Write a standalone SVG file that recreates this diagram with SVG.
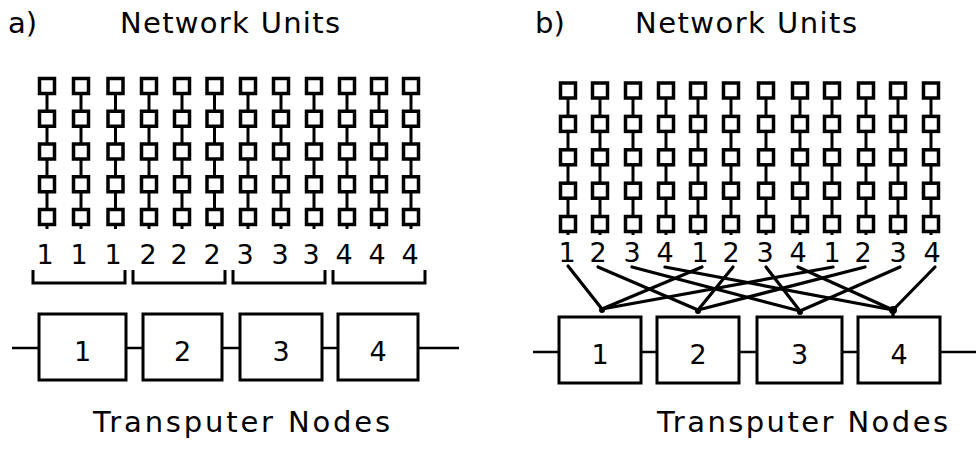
<svg xmlns="http://www.w3.org/2000/svg" xmlns:xlink="http://www.w3.org/1999/xlink" width="976" height="449" viewBox="0 0 976 449">
<style>
text{font-family:"DejaVu Sans","Liberation Sans",sans-serif;fill:#000}
.title{font-size:29px}
.lbl{font-size:27px;text-anchor:middle}
.unit{fill:#fff;stroke:#000;stroke-width:3.5}
.link{stroke:#000;stroke-width:3;fill:none}
.box{fill:#fff;stroke:#000;stroke-width:3}
.wire{stroke:#000;stroke-width:2.5;fill:none}
.brk{stroke:#000;stroke-width:3;fill:none}
.cross{stroke:#000;stroke-width:3.2;fill:none;stroke-linecap:round}
</style>
<defs>
<g id="chainL">
<line class="link" x1="0" y1="0" x2="0" y2="143"/>
<rect class="unit" x="-7.5" y="-7.5" width="15" height="15"/>
<rect class="unit" x="-7.5" y="25.25" width="15" height="15"/>
<rect class="unit" x="-7.5" y="58" width="15" height="15"/>
<rect class="unit" x="-7.5" y="90.75" width="15" height="15"/>
<rect class="unit" x="-7.5" y="123.5" width="15" height="15"/>
</g>
<g id="chainR">
<line class="link" x1="0" y1="0" x2="0" y2="144.5"/>
<rect class="unit" x="-7.5" y="-7.5" width="15" height="15"/>
<rect class="unit" x="-7.5" y="25.9" width="15" height="15"/>
<rect class="unit" x="-7.5" y="59.3" width="15" height="15"/>
<rect class="unit" x="-7.5" y="92.7" width="15" height="15"/>
<rect class="unit" x="-7.5" y="126" width="15" height="15"/>
</g>
</defs>
<rect width="976" height="449" fill="#fff"/>

<!-- Titles -->
<text class="title" x="8" y="33">a)</text>
<text class="title" x="120" y="33" textLength="220" lengthAdjust="spacing">Network Units</text>
<text class="title" x="535" y="33">b)</text>
<text class="title" x="635" y="33" textLength="222" lengthAdjust="spacing">Network Units</text>
<text class="title" x="93" y="432" textLength="297" lengthAdjust="spacing">Transputer Nodes</text>
<text class="title" x="657" y="432" textLength="291" lengthAdjust="spacing">Transputer Nodes</text>

<!-- Panel a: network unit columns -->
<g id="a-units">
<g id="a-col1"><use xlink:href="#chainL" x="47" y="86"/><text class="lbl" x="45" y="264">1</text></g>
<g id="a-col2"><use xlink:href="#chainL" x="81" y="86"/><text class="lbl" x="79" y="264">1</text></g>
<g id="a-col3"><use xlink:href="#chainL" x="115.5" y="86"/><text class="lbl" x="113" y="264">1</text></g>
<g id="a-col4"><use xlink:href="#chainL" x="149" y="86"/><text class="lbl" x="148" y="264">2</text></g>
<g id="a-col5"><use xlink:href="#chainL" x="182" y="86"/><text class="lbl" x="179" y="264">2</text></g>
<g id="a-col6"><use xlink:href="#chainL" x="214.5" y="86"/><text class="lbl" x="212" y="264">2</text></g>
<g id="a-col7"><use xlink:href="#chainL" x="248" y="86"/><text class="lbl" x="245" y="264">3</text></g>
<g id="a-col8"><use xlink:href="#chainL" x="281" y="86"/><text class="lbl" x="280" y="264">3</text></g>
<g id="a-col9"><use xlink:href="#chainL" x="314" y="86"/><text class="lbl" x="311" y="264">3</text></g>
<g id="a-col10"><use xlink:href="#chainL" x="347" y="86"/><text class="lbl" x="344" y="264">4</text></g>
<g id="a-col11"><use xlink:href="#chainL" x="379" y="86"/><text class="lbl" x="377" y="264">4</text></g>
<g id="a-col12"><use xlink:href="#chainL" x="411" y="86"/><text class="lbl" x="410" y="264">4</text></g>
</g>

<!-- Panel a: brackets -->
<g id="a-brackets" class="brk">
<path d="M33,270 V283 H125 V270"/>
<path d="M133,270 V283 H225 V270"/>
<path d="M233,270 V283 H325 V270"/>
<path d="M333,270 V283 H425 V270"/>
</g>

<!-- Connectors -->
<g id="connectors">
<g id="a-wires" class="wire">
<line x1="12" y1="348" x2="39" y2="348"/>
<line x1="126" y1="348" x2="143" y2="348"/>
<line x1="222" y1="348" x2="240" y2="348"/>
<line x1="322" y1="348" x2="338" y2="348"/>
<line x1="418" y1="348" x2="459" y2="348"/>
</g>
<g id="b-wires" class="wire">
<line x1="533" y1="352" x2="559" y2="352"/>
<line x1="641" y1="352" x2="657" y2="352"/>
<line x1="739" y1="352" x2="757" y2="352"/>
<line x1="842" y1="352" x2="858" y2="352"/>
<line x1="940" y1="352" x2="976" y2="352"/>
</g>
<g id="b-cross" class="cross">
<line x1="568" y1="266" x2="602" y2="309"/>
<line x1="598" y1="267" x2="698" y2="310"/>
<line x1="632" y1="267" x2="800" y2="311"/>
<line x1="665" y1="267" x2="893" y2="310"/>
<line x1="702" y1="267" x2="602" y2="309"/>
<line x1="733" y1="267" x2="698" y2="310"/>
<line x1="766" y1="267" x2="800" y2="311"/>
<line x1="798" y1="267" x2="893" y2="310"/>
<line x1="833" y1="267" x2="602" y2="309"/>
<line x1="865" y1="267" x2="698" y2="310"/>
<line x1="900" y1="267" x2="800" y2="311"/>
<line x1="935" y1="267" x2="893" y2="310"/>
<line x1="893" y1="310" x2="893" y2="317"/>
</g>
<g id="b-dots">
<circle cx="602" cy="310" r="3"/>
<circle cx="698" cy="311" r="3"/>
<circle cx="800" cy="312" r="3"/>
<circle cx="893" cy="310" r="4"/>
</g>
</g>

<!-- Panel a: transputer nodes -->
<g id="a-node1"><rect class="box" x="39" y="314" width="87" height="66"/><text class="lbl" x="82.5" y="361">1</text></g>
<g id="a-node2"><rect class="box" x="143" y="314" width="79" height="66"/><text class="lbl" x="182.5" y="361">2</text></g>
<g id="a-node3"><rect class="box" x="240" y="314" width="82" height="66"/><text class="lbl" x="281" y="361">3</text></g>
<g id="a-node4"><rect class="box" x="338" y="314" width="80" height="66"/><text class="lbl" x="378" y="361">4</text></g>

<!-- Panel b: network unit columns -->
<g id="b-units">
<g id="b-col1"><use xlink:href="#chainR" x="568" y="90.5"/><text class="lbl" x="567" y="262">1</text></g>
<g id="b-col2"><use xlink:href="#chainR" x="600" y="90.5"/><text class="lbl" x="598" y="262">2</text></g>
<g id="b-col3"><use xlink:href="#chainR" x="633" y="90.5"/><text class="lbl" x="632" y="262">3</text></g>
<g id="b-col4"><use xlink:href="#chainR" x="666" y="90.5"/><text class="lbl" x="665" y="262">4</text></g>
<g id="b-col5"><use xlink:href="#chainR" x="698" y="90.5"/><text class="lbl" x="700" y="262">1</text></g>
<g id="b-col6"><use xlink:href="#chainR" x="731" y="90.5"/><text class="lbl" x="731" y="262">2</text></g>
<g id="b-col7"><use xlink:href="#chainR" x="766" y="90.5"/><text class="lbl" x="765" y="262">3</text></g>
<g id="b-col8"><use xlink:href="#chainR" x="800" y="90.5"/><text class="lbl" x="798" y="262">4</text></g>
<g id="b-col9"><use xlink:href="#chainR" x="832" y="90.5"/><text class="lbl" x="832" y="262">1</text></g>
<g id="b-col10"><use xlink:href="#chainR" x="866" y="90.5"/><text class="lbl" x="863" y="262">2</text></g>
<g id="b-col11"><use xlink:href="#chainR" x="898" y="90.5"/><text class="lbl" x="898" y="262">3</text></g>
<g id="b-col12"><use xlink:href="#chainR" x="931" y="90.5"/><text class="lbl" x="932" y="262">4</text></g>
</g>

<!-- Panel b: transputer nodes -->
<g id="b-node1"><rect class="box" x="559" y="317" width="82" height="66"/><text class="lbl" x="600" y="364">1</text></g>
<g id="b-node2"><rect class="box" x="657" y="317" width="82" height="66"/><text class="lbl" x="698" y="364">2</text></g>
<g id="b-node3"><rect class="box" x="757" y="317" width="85" height="66"/><text class="lbl" x="799.5" y="364">3</text></g>
<g id="b-node4"><rect class="box" x="858" y="317" width="82" height="66"/><text class="lbl" x="899" y="364">4</text></g>
</svg>
